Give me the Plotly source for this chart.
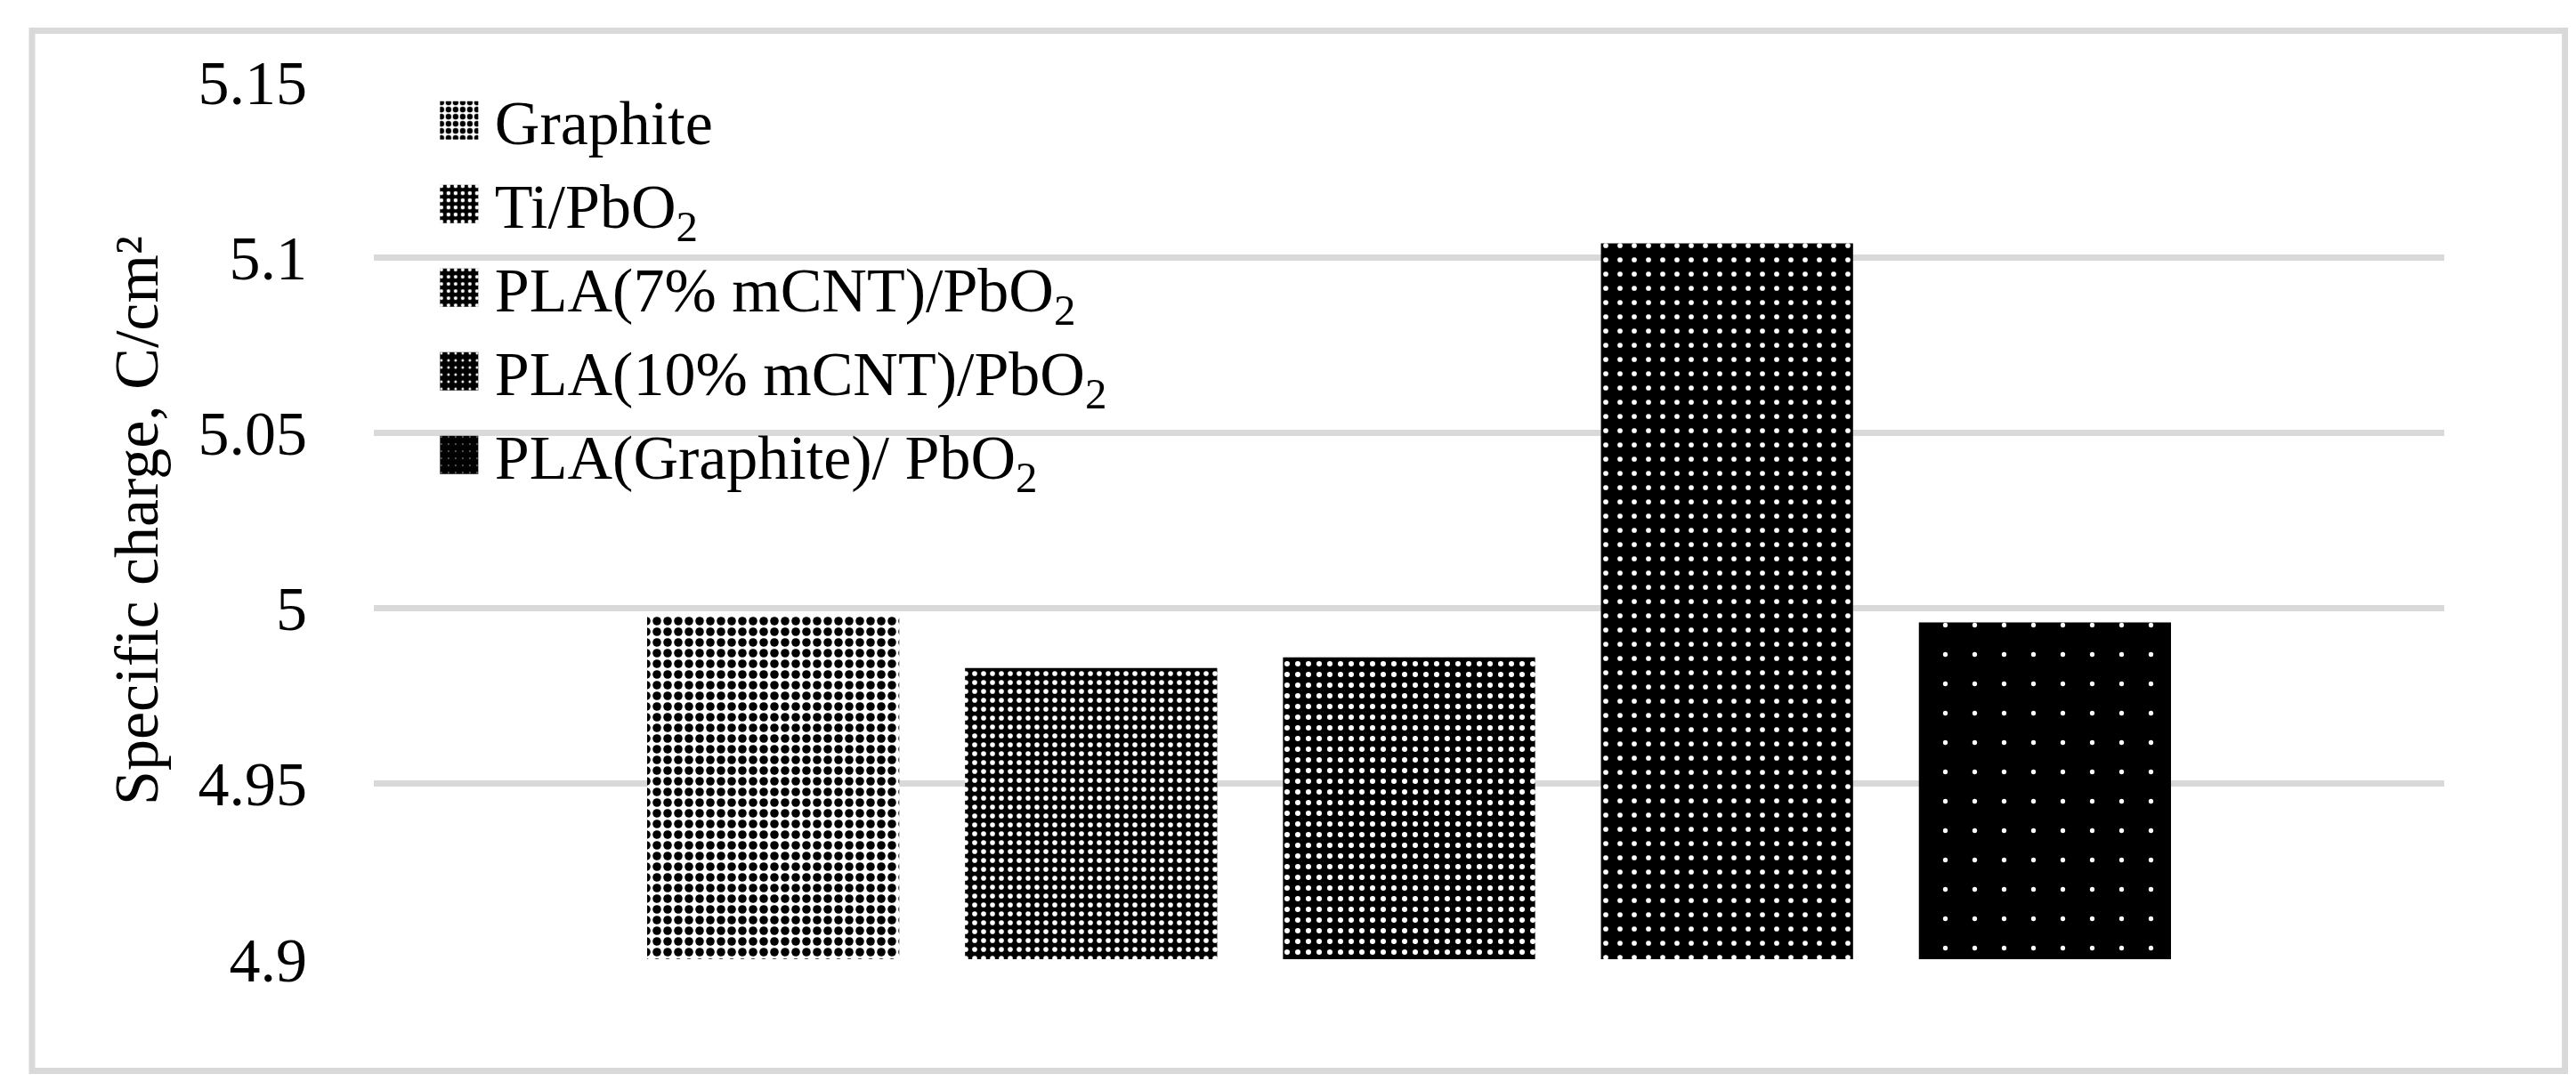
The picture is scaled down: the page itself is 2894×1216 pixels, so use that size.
#!/usr/bin/env python3
"""Specific charge of the anode materials, bar chart with patterned fills"""
import plotly.graph_objs as go

# Data
electrodes = ['Graphite', 'Ti/PbO<sub>2</sub>', 'PLA(7% mCNT)/PbO<sub>2</sub>',
              'PLA(10% mCNT)/PbO<sub>2</sub>', 'PLA(Graphite)/ PbO<sub>2</sub>']
specific_charge = [4.998, 4.983, 4.986, 5.104, 4.996]
tick_values = [4.9, 4.95, 5.0, 5.05, 5.1, 5.15]
tick_labels = ['4.9', '4.95', '5', '5.05', '5.1', '5.15']

# Fill pattern per electrode: shape, fg, bg, size, solidity
patterns = [
    dict(shape='.', fgcolor='black', bgcolor='white', size=12, solidity=0.5),
    dict(shape='.', fgcolor='white', bgcolor='black', size=10, solidity=0.25),
    dict(shape='.', fgcolor='white', bgcolor='black', size=12, solidity=0.2),
    dict(shape='.', fgcolor='white', bgcolor='black', size=16, solidity=0.1),
    dict(shape='.', fgcolor='white', bgcolor='black', size=33, solidity=0.02),
]

FONT = 'Liberation Serif'
GRID = '#d9d9d9'

fig = go.Figure()

for i, (name, val) in enumerate(zip(electrodes, specific_charge)):
    fig.add_trace(go.Bar(
        x=[i],
        y=[val],
        name=name,
        width=0.793,
        marker=dict(color='black', line=dict(width=0), pattern=dict(fillmode='replace', **patterns[i])),
        showlegend=True,
    ))

fig.update_layout(
    width=2894,
    height=1216,
    margin=dict(l=412, r=156, t=84, b=146, autoexpand=False),
    paper_bgcolor='white',
    plot_bgcolor='white',
    barmode='overlay',
    font=dict(family=FONT, size=70, color='black'),
    showlegend=True,
    legend=dict(
        x=0.024,
        y=1.009,
        xanchor='left',
        yanchor='top',
        bgcolor='rgba(0,0,0,0)',
        itemwidth=70,
        font=dict(family=FONT, size=70, color='black'),
        traceorder='normal',
    ),
    xaxis=dict(
        range=[-1.256, 5.256],
        showticklabels=False,
        showgrid=False,
        zeroline=False,
        showline=False,
        ticks='',
    ),
    yaxis=dict(
        range=[4.9, 5.15],
        tickvals=tick_values,
        ticktext=tick_labels,
        showgrid=True,
        gridcolor=GRID,
        gridwidth=7,
        zeroline=False,
        showline=False,
        ticks='',
        ticklabelstandoff=74,
        tickfont=dict(family=FONT, size=70, color='black'),
        title=dict(text='Specific charge, C/cm²', standoff=22,
                   font=dict(family=FONT, size=70, color='black')),
    ),
)

# outer frame round the whole chart
fig.add_shape(type='rect', xref='paper', yref='paper',
              x0=-0.1651, x1=1.0583, y0=-0.1274, y1=1.0584,
              line=dict(color=GRID, width=7), fillcolor='rgba(0,0,0,0)', layer='below')

# enlarge the legend swatches to the size used in the original figure
post = """
var gd = document.getElementById('{plot_id}');
function bigSwatches() {
  gd.querySelectorAll('.legend .legendpoints path').forEach(function (p) {
    p.setAttribute('d', 'M21.5,21.5H-21.5V-21.5H21.5Z');
  });
}
bigSwatches();
gd.on('plotly_afterplot', bigSwatches);
"""

fig.write_html("out.html", post_script=post)
print("✓ Created: out.html")
